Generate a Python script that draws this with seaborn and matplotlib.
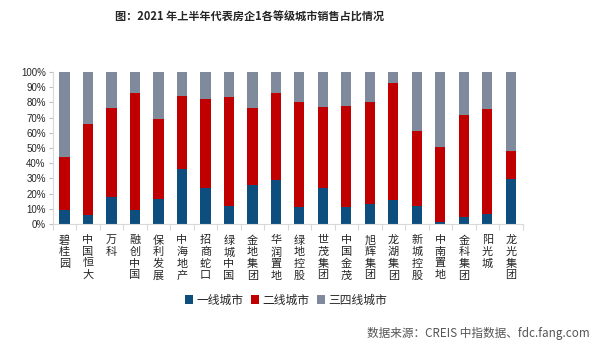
import numpy as np
import pandas as pd
import matplotlib
matplotlib.use('Agg')
import matplotlib.pyplot as plt
import seaborn as sns
from matplotlib.patches import Patch

# companies and share of sales by city tier (%)
companies = ['碧桂园', '中国恒大', '万科', '融创中国', '保利发展', '中海地产', '招商蛇口',
             '绿城中国', '金地集团', '华润置地', '绿地控股', '世茂集团', '中国金茂',
             '旭辉集团', '龙湖集团', '新城控股', '中南置地', '金科集团', '阳光城', '龙光集团']
tier1 = [9.2, 5.9, 18.0, 9.2, 16.4, 36.4, 23.9, 12.1, 25.7, 29.2,
         11.2, 23.9, 11.2, 13.4, 16.0, 12.1, 1.3, 4.4, 6.4, 29.6]
tier2 = [35.1, 59.9, 58.5, 77.2, 52.9, 48.0, 58.3, 71.7, 50.8, 57.2,
         69.1, 53.1, 66.7, 66.9, 77.0, 49.3, 49.4, 67.5, 69.3, 18.6]
tier34 = [100 - a - b for a, b in zip(tier1, tier2)]
series_names = ['一线城市', '二线城市', '三四线城市']
colors = ['#0D4E7E', '#C00000', '#7F8A9C']

df = pd.DataFrame({'company': companies, 't1': tier1, 't2': tier2, 't34': tier34})
df['cum2'] = df['t1'] + df['t2']
df['cum3'] = df['cum2'] + df['t34']

sns.set_style('white')
plt.rcParams['font.family'] = ['Noto Sans CJK SC', 'DejaVu Sans']

fig = plt.figure(figsize=(6.02, 3.53), dpi=100)
ax = fig.add_axes([0.0876, 0.3654, 0.7806, 0.4306])

# stacked look: draw cumulative totals from the back
w = 0.43
sns.barplot(data=df, x='company', y='cum3', color=colors[2], width=w, ax=ax,
            saturation=1, linewidth=0, edgecolor='none')
sns.barplot(data=df, x='company', y='cum2', color=colors[1], width=w, ax=ax,
            saturation=1, linewidth=0, edgecolor='none')
sns.barplot(data=df, x='company', y='t1', color=colors[0], width=w, ax=ax,
            saturation=1, linewidth=0, edgecolor='none')

ax.set_xlim(-0.5, len(companies) - 0.5)
ax.set_ylim(0, 100)
ax.set_xlabel('')
ax.set_ylabel('')

ax.set_yticks(np.arange(0, 101, 10))
ax.set_yticklabels([f'{v}%' for v in range(0, 101, 10)], family='Liberation Sans', fontsize=7)
ax.tick_params(axis='y', length=3, width=0.8, color='#BFBFBF', pad=2, left=True)

ax.set_xticks(range(len(companies)))
ax.set_xticklabels(['\n'.join(c) for c in companies], fontsize=8, linespacing=1.2, va='top')
ax.set_xticks(np.arange(-0.5, len(companies), 1), minor=True)
ax.tick_params(axis='x', which='major', length=0, pad=8)
ax.tick_params(axis='x', which='minor', length=4, width=0.8, color='#D9D9D9', bottom=True)

for side in ['top', 'right']:
    ax.spines[side].set_visible(False)
for side in ['left', 'bottom']:
    ax.spines[side].set_color('#D9D9D9')
    ax.spines[side].set_linewidth(0.8)

fig.text(0.414, 0.952, '图：2021 年上半年代表房企1各等级城市销售占比情况',
         ha='center', va='center', fontsize=8, fontweight='bold')

handles = [Patch(facecolor=c, edgecolor='none') for c in colors]
fig.legend(handles, series_names, loc='center', bbox_to_anchor=(0.475, 0.15), ncol=3,
           frameon=False, fontsize=8.5, handlelength=0.7, handleheight=0.7,
           handletextpad=0.3, columnspacing=0.6)

fig.text(0.979, 0.054, '数据来源：CREIS 中指数据、fdc.fang.com', ha='right', va='center',
         fontsize=8.4, color='#555555')

fig.savefig('out.png', dpi=100)
